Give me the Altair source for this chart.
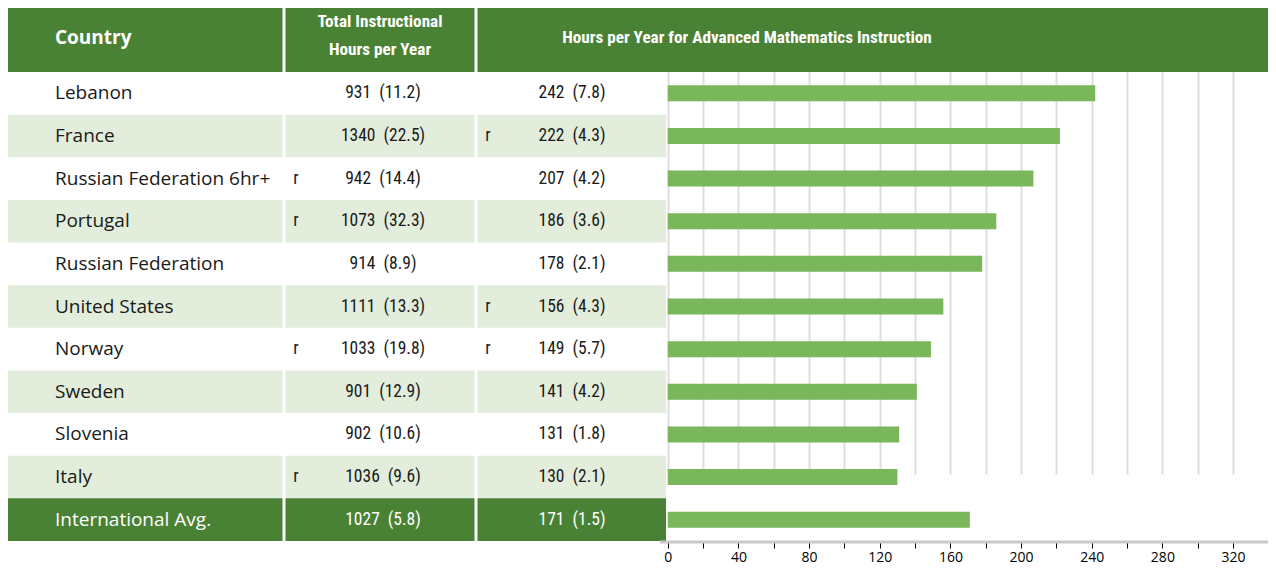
import altair as alt
import pandas as pd

countries = ["Lebanon", "France", "Russian Federation 6hr+", "Portugal", "Russian Federation",
             "United States", "Norway", "Sweden", "Slovenia", "Italy", "International Avg."]
total_hours = [931, 1340, 942, 1073, 914, 1111, 1033, 901, 902, 1036, 1027]
total_se = [11.2, 22.5, 14.4, 32.3, 8.9, 13.3, 19.8, 12.9, 10.6, 9.6, 5.8]
total_flag = ["", "", "r", "r", "", "", "r", "", "", "r", ""]
adv_hours = [242, 222, 207, 186, 178, 156, 149, 141, 131, 130, 171]
adv_se = [7.8, 4.3, 4.2, 3.6, 2.1, 4.3, 5.7, 4.2, 1.8, 2.1, 1.5]
adv_flag = ["", "r", "", "", "", "r", "r", "", "", "", ""]
row_kind = ["plain", "stripe", "plain", "stripe", "plain", "stripe", "plain", "stripe", "plain", "stripe", "avg"]
axis_values = list(range(0, 341, 20))

DARK = "#4a8235"
LIGHT = "#e2eddb"
BAR = "#79b75a"
NUMFONT = "Liberation Sans Narrow, Roboto Condensed, DejaVu Sans Condensed, Open Sans"
TXTFONT = "Open Sans"

bg_map = {"plain": "#ffffff", "stripe": LIGHT, "avg": DARK}
fg_map = {"plain": "#1a1a1a", "stripe": "#1a1a1a", "avg": "#ffffff"}

df = pd.DataFrame({
    "country": countries,
    "total_label": [f"{h}\u00a0 ({s})" for h, s in zip(total_hours, total_se)],
    "adv_label": [f"{h}\u00a0 ({s})" for h, s in zip(adv_hours, adv_se)],
    "tflag": total_flag,
    "aflag": adv_flag,
    "adv": adv_hours,
    "kind": row_kind,
    "bg": [bg_map[k] for k in row_kind],
    "fg": [fg_map[k] for k in row_kind],
})

W, H = 1260, 536
HEADER_H = 67
yscale = alt.Scale(domain=countries, range=[HEADER_H, H], paddingInner=0, paddingOuter=0)
Y = alt.Y("country:N", scale=yscale, axis=None, sort=countries)
xscale = alt.Scale(domain=[-373.5, 339.8], nice=False, zero=False)

base = alt.Chart(df)

stripes = base.transform_filter("datum.kind != 'plain'").mark_rect().encode(
    x=alt.value(0), x2=alt.value(658), y=Y,
    fill=alt.Color("bg:N", scale=None)
)

header_df = pd.DataFrame({"k": [1]})
header = alt.Chart(header_df).mark_rect(color=DARK).encode(
    x=alt.value(0), x2=alt.value(W), y=alt.value(0), y2=alt.value(HEADER_H)
)

seps = alt.Chart(pd.DataFrame({"xp": [276, 468]})).mark_rule(color="white", strokeWidth=3).encode(
    x=alt.X("xp:Q", scale=None), y=alt.value(0), y2=alt.value(H)
)

bars = base.mark_bar(size=16, color=BAR).encode(
    x=alt.X("adv:Q", scale=xscale,
            axis=alt.Axis(values=axis_values, title=None,
                          labelExpr="datum.value % 40 === 0 ? datum.label : ''",
                          grid=True, gridColor="#dedede", gridWidth=2,
                          domain=False, ticks=True, tickColor="#000000", tickSize=7, tickWidth=1,
                          labelFontSize=14, labelColor="#000000", labelFont=TXTFONT,
                          labelOverlap=False, labelFlush=False, labelPadding=2)),
    y=Y,
)

domain_rule = alt.Chart(header_df).mark_rule(color="#c8c8c8", strokeWidth=3).encode(
    x=alt.value(652), x2=alt.value(W), y=alt.value(H + 1)
)

def col_text(field, xpos, align, font, size):
    return base.mark_text(align=align, baseline="middle", font=font, fontSize=size).encode(
        x=alt.value(xpos), y=Y, text=f"{field}:N", color=alt.Color("fg:N", scale=None)
    )

country_text = col_text("country", 47, "left", TXTFONT, 19)
tflag_text = col_text("tflag", 288, "center", NUMFONT, 17.5)
total_text = col_text("total_label", 375, "center", NUMFONT, 17.5)
aflag_text = col_text("aflag", 480, "center", NUMFONT, 17.5)
adv_text = col_text("adv_label", 564, "center", NUMFONT, 17.5)

hdr = pd.DataFrame({
    "label": ["Country", "Total Instructional", "Hours per Year",
              "Hours per Year for Advanced Mathematics Instruction"],
    "px": [47, 372, 372, 739],
    "py": [33, 17, 45, 33],
})
hdr_left = alt.Chart(hdr.iloc[[0]]).mark_text(align="left", baseline="middle", font=TXTFONT,
                                               fontSize=19, fontWeight="bold", color="white").encode(
    x=alt.X("px:Q", scale=None), y=alt.Y("py:Q", scale=None), text="label:N"
)
hdr_center = alt.Chart(hdr.iloc[1:]).mark_text(align="center", baseline="middle", font=NUMFONT,
                                               fontSize=17.2, fontWeight="bold", color="white").encode(
    x=alt.X("px:Q", scale=None), y=alt.Y("py:Q", scale=None), text="label:N"
)

chart = alt.layer(
    stripes, header, bars, domain_rule, seps,
    country_text, tflag_text, total_text, aflag_text, adv_text,
    hdr_left, hdr_center
).properties(
    width=W, height=H,
    autosize=alt.AutoSizeParams(type="none"),
    padding={"top": -3, "left": 0, "right": 0, "bottom": 25}
).configure_view(stroke=None)

chart.save("out.html", embed_options={"renderer": "svg", "actions": False})
